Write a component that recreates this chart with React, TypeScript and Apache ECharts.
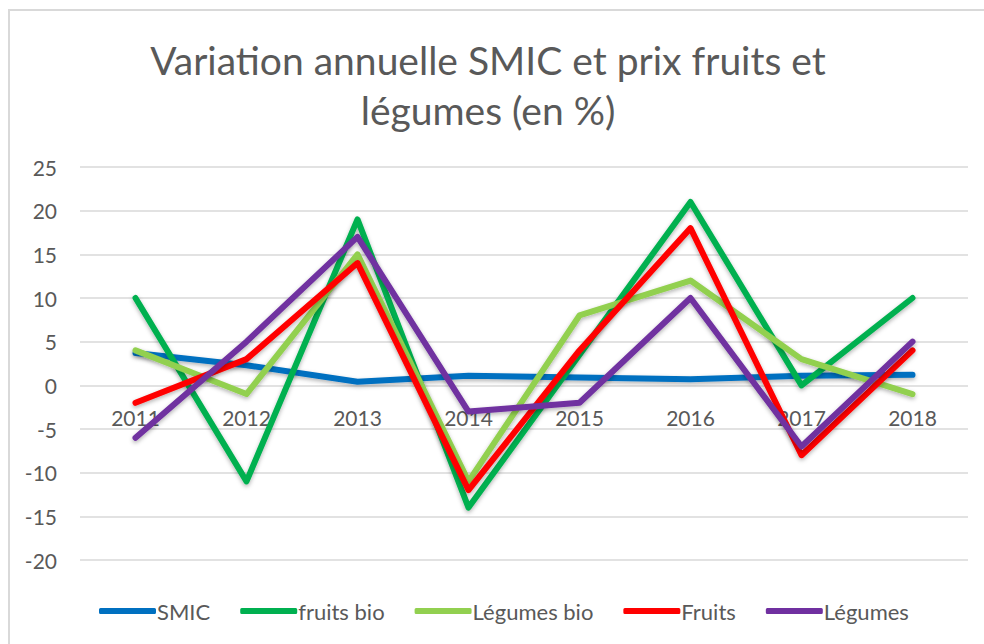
import React, { useEffect, useRef } from "react";
import * as echarts from "echarts";

const years = ["2011", "2012", "2013", "2014", "2015", "2016", "2017", "2018"];
const smic = [3.7, 2.3, 0.4, 1.1, 0.9, 0.7, 1.1, 1.2];
const fruitsBio = [10, -11, 19, -14, 3.5, 21, 0, 10];
const legumesBio = [4, -1, 15, -11, 8, 12, 3, -1];
const fruits = [-2, 3, 14, -12, 4, 18, -8, 4];
const legumes = [-6, 5, 17, -3, -2, 10, -7, 5];

const seriesNames = ["SMIC", "fruits bio", "Légumes bio", "Fruits", "Légumes"];
const seriesColors = ["#0070c0", "#00b050", "#92d050", "#ff0000", "#7030a0"];
const seriesData = [smic, fruitsBio, legumesBio, fruits, legumes];

const FONT = "Lato, 'Liberation Sans', sans-serif";
const GREY = "#595959";

export default function App() {
  const ref = useRef<HTMLDivElement>(null);
  useEffect(() => {
    if (!ref.current) return;
    const chart = echarts.init(ref.current, undefined, { renderer: "svg" });
    chart.setOption({
      animation: false,
      backgroundColor: "#ffffff",
      title: {
        text: "Variation annuelle SMIC et prix fruits et\nlégumes (en %)",
        left: 488,
        textAlign: "center",
        top: 35,
        padding: 0,
        textStyle: {
          fontFamily: FONT,
          fontWeight: "normal",
          fontSize: 39,
          lineHeight: 50,
          color: GREY,
        },
      },
      graphic: [
        {
          type: "rect",
          shape: { x: 9, y: 10, width: 1000, height: 700 },
          style: { fill: "none", stroke: "#d9d9d9", lineWidth: 2 },
          silent: true,
        },
      ],
      legend: {
        top: 595,
        left: 94,
        itemWidth: 57,
        itemHeight: 6,
        itemGap: 30,
        icon: "roundRect",
        data: seriesNames,
        textStyle: { fontFamily: FONT, fontSize: 22, color: GREY, padding: [0, 0, 0, -4] },
      },
      grid: { left: 80, right: 16, top: 167, bottom: 84, containLabel: false },
      xAxis: {
        type: "category",
        data: years,
        boundaryGap: true,
        offset: -174,
        axisLine: { show: false, onZero: false },
        axisTick: { show: false },
        axisLabel: { fontFamily: FONT, fontSize: 21, color: GREY, margin: 21 },
        splitLine: { show: false },
      },
      yAxis: {
        type: "value",
        min: -20,
        max: 25,
        interval: 5,
        axisLine: { show: false },
        axisTick: { show: false },
        axisLabel: { fontFamily: FONT, fontSize: 21, color: GREY, margin: 23 },
        splitLine: { lineStyle: { color: "#d9d9d9", width: 1.5 } },
      },
      series: seriesNames.map((name, i) => ({
        name,
        type: "line",
        data: seriesData[i],
        symbol: "none",
        color: seriesColors[i],
        lineStyle: {
          width: 6,
          color: seriesColors[i],
          cap: "round",
          join: "round",
          shadowColor: "rgba(0,0,0,0.3)",
          shadowBlur: 4,
          shadowOffsetY: 2,
        },
      })),
    });
    return () => chart.dispose();
  }, []);
  return (
    <div
      ref={ref}
      style={{ position: "absolute", left: 0, top: 0, width: 984, height: 644, background: "#fff" }}
    />
  );
}
